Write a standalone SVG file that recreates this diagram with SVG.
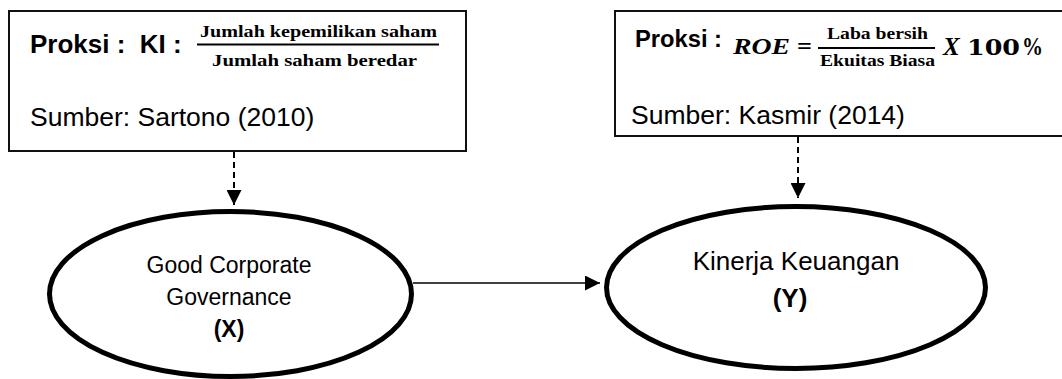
<svg xmlns="http://www.w3.org/2000/svg" width="1062" height="379" viewBox="0 0 1062 379">
<style>
.box{fill:#fff;stroke:#111;stroke-width:2}
.ell{fill:#fff;stroke:#000;stroke-width:5}
.sans{font-family:"Liberation Sans",Arial,sans-serif;fill:#000}
.serif{font-family:"Liberation Serif","Times New Roman",serif;fill:#000;font-weight:bold}
.fr{stroke:#000;stroke-width:2}
.dash{stroke:#000;stroke-width:2;stroke-dasharray:6 4;fill:none}
.solid{stroke:#000;stroke-width:1.6;fill:none}
</style>
<defs>
<marker id="ah" viewBox="0 0 10 10" refX="10" refY="5" markerWidth="16" markerHeight="15" markerUnits="userSpaceOnUse" orient="auto">
<path d="M0,0 L10,5 L0,10 Z" fill="#000"/>
</marker>
</defs>
<g id="proksi-x">
<rect class="box" x="9" y="11" width="457" height="140"/>
<text class="sans" x="30" y="53" font-size="26" font-weight="bold" xml:space="preserve">Proksi :  KI :</text>
<text class="serif" x="200" y="37" font-size="16" textLength="237" lengthAdjust="spacingAndGlyphs">Jumlah kepemilikan saham</text>
<line class="fr" x1="197" y1="44.5" x2="439" y2="44.5"/>
<text class="serif" x="212" y="66" font-size="16" textLength="205" lengthAdjust="spacingAndGlyphs">Jumlah saham beredar</text>
<text class="sans" x="30" y="126" font-size="26.5">Sumber: Sartono (2010)</text>
</g>
<g id="proksi-y">
<rect class="box" x="615" y="11" width="460" height="125"/>
<text class="sans" x="635" y="47" font-size="23" font-weight="bold" textLength="87" lengthAdjust="spacingAndGlyphs">Proksi :</text>
<text class="serif" x="733" y="54" font-size="24" font-style="italic" textLength="57" lengthAdjust="spacingAndGlyphs">ROE</text>
<text class="serif" x="797" y="54" font-size="24" font-weight="normal" textLength="15" lengthAdjust="spacingAndGlyphs">=</text>
<text class="serif" x="827" y="39" font-size="16" textLength="101" lengthAdjust="spacingAndGlyphs">Laba bersih</text>
<line class="fr" x1="818" y1="48" x2="935" y2="48"/>
<text class="serif" x="820" y="66" font-size="16" textLength="115" lengthAdjust="spacingAndGlyphs">Ekuitas Biasa</text>
<text class="serif" x="943" y="55" font-size="25" font-style="italic">X</text>
<text x="967" y="55" font-size="23" font-weight="bold" font-family="'DejaVu Serif',serif" textLength="53" lengthAdjust="spacingAndGlyphs">100</text>
<text class="serif" x="1022" y="55" font-size="25" font-weight="normal" textLength="21" lengthAdjust="spacingAndGlyphs">%</text>
<text class="sans" x="631" y="124" font-size="26.5">Sumber: Kasmir (2014)</text>
</g>
<g id="gcg">
<ellipse class="ell" cx="230.5" cy="294" rx="181" ry="82.5"/>
<text class="sans" x="229" y="273" font-size="23" text-anchor="middle">Good Corporate</text>
<text class="sans" x="229" y="305" font-size="23" text-anchor="middle">Governance</text>
<text class="sans" x="229" y="337" font-size="23" font-weight="bold" text-anchor="middle">(X)</text>
</g>
<g id="kinerja">
<ellipse class="ell" cx="796" cy="287.5" rx="189.5" ry="81"/>
<text class="sans" x="796" y="270" font-size="26" text-anchor="middle">Kinerja Keuangan</text>
<text class="sans" x="790" y="307" font-size="26" font-weight="bold" text-anchor="middle">(Y)</text>
</g>
<g id="connectors">
<line class="dash" x1="234" y1="152" x2="234" y2="205" marker-end="url(#ah)"/>
<line class="dash" x1="798" y1="137" x2="798" y2="198" marker-end="url(#ah)"/>
<line class="solid" x1="413" y1="283" x2="600" y2="283" marker-end="url(#ah)"/>
</g>
</svg>
